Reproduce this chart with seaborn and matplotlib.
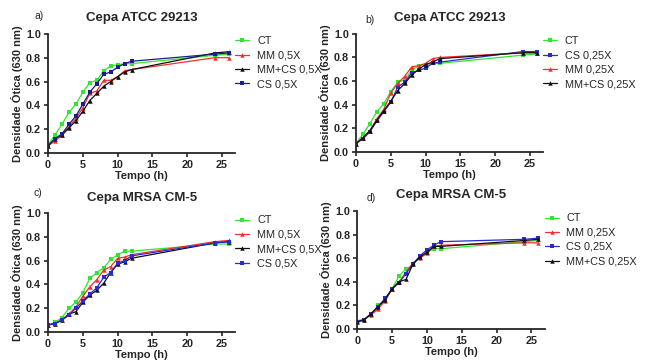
import numpy as np
import pandas as pd
import matplotlib
matplotlib.use("Agg")
import matplotlib.pyplot as plt
import seaborn as sns

sns.set_style("ticks")
plt.rcParams['font.family'] = ['Liberation Sans', 'DejaVu Sans']

tempo = [0, 1, 2, 3, 4, 5, 6, 7, 8, 9, 10, 11, 12, 24, 26]

# Panel a) Cepa ATCC 29213, 0,5X
a_ct = [0.07, 0.15, 0.24, 0.34, 0.41, 0.51, 0.59, 0.61, 0.69, 0.73, 0.74, 0.75, 0.75, 0.82, 0.83]
a_mm = [0.06, 0.10, 0.15, 0.22, 0.29, 0.38, 0.50, 0.52, 0.61, 0.61, 0.64, 0.69, 0.70, 0.80, 0.80]
a_mmcs = [0.06, 0.12, 0.15, 0.21, 0.27, 0.35, 0.44, 0.50, 0.56, 0.60, 0.64, 0.68, 0.70, 0.84, 0.85]
a_cs = [0.06, 0.12, 0.16, 0.24, 0.31, 0.41, 0.51, 0.58, 0.66, 0.68, 0.72, 0.75, 0.77, 0.83, 0.84]

# Panel b) Cepa ATCC 29213, 0,25X
b_ct = [0.07, 0.15, 0.24, 0.34, 0.41, 0.51, 0.59, 0.61, 0.69, 0.73, 0.74, 0.75, 0.75, 0.82, 0.83]
b_cs = [0.07, 0.11, 0.17, 0.26, 0.34, 0.42, 0.55, 0.59, 0.67, 0.69, 0.71, 0.75, 0.76, 0.85, 0.85]
b_mm = [0.07, 0.12, 0.18, 0.28, 0.36, 0.50, 0.58, 0.64, 0.72, 0.73, 0.75, 0.79, 0.80, 0.84, 0.84]
b_mmcs = [0.07, 0.12, 0.18, 0.27, 0.35, 0.43, 0.52, 0.58, 0.65, 0.70, 0.74, 0.76, 0.79, 0.84, 0.84]

# Panel c) Cepa MRSA CM-5, 0,5X
c_ct = [0.05, 0.08, 0.12, 0.20, 0.25, 0.33, 0.45, 0.50, 0.54, 0.61, 0.65, 0.68, 0.68, 0.74, 0.74]
c_mm = [0.06, 0.07, 0.10, 0.15, 0.21, 0.30, 0.38, 0.44, 0.52, 0.55, 0.62, 0.63, 0.65, 0.76, 0.77]
c_mmcs = [0.06, 0.07, 0.10, 0.15, 0.17, 0.25, 0.31, 0.35, 0.41, 0.50, 0.57, 0.59, 0.62, 0.75, 0.76]
c_cs = [0.06, 0.07, 0.10, 0.14, 0.20, 0.26, 0.32, 0.37, 0.46, 0.50, 0.58, 0.60, 0.64, 0.75, 0.76]

# Panel d) Cepa MRSA CM-5, 0,25X
d_ct = [0.05, 0.08, 0.13, 0.20, 0.24, 0.34, 0.45, 0.51, 0.54, 0.62, 0.65, 0.68, 0.68, 0.74, 0.75]
d_mm = [0.07, 0.08, 0.12, 0.17, 0.24, 0.34, 0.40, 0.48, 0.56, 0.60, 0.64, 0.70, 0.71, 0.73, 0.73]
d_cs = [0.06, 0.08, 0.13, 0.19, 0.26, 0.34, 0.39, 0.47, 0.55, 0.62, 0.67, 0.71, 0.74, 0.76, 0.77]
d_mmcs = [0.06, 0.08, 0.13, 0.19, 0.25, 0.34, 0.40, 0.42, 0.55, 0.61, 0.65, 0.70, 0.70, 0.75, 0.76]

GREEN = "#2ee82e"
RED = "#f03030"
BLACK = "#111111"
BLUE_A = "#1c1c8c"
BLUE_B = "#2a2ad0"

panels = [
    dict(label="a)", lpos=(-0.07, 1.15), title="Cepa ATCC 29213", pos=[0.0743, 0.575, 0.290, 0.331],
         series=[("CT", a_ct, GREEN, "s"), ("MM 0,5X", a_mm, RED, "^"),
                 ("MM+CS 0,5X", a_mmcs, BLACK, "^"), ("CS 0,5X", a_cs, BLUE_A, "s")]),
    dict(label="b)", lpos=(0.05, 1.12), title="Cepa ATCC 29213", pos=[0.551, 0.578, 0.290, 0.328],
         series=[("CT", b_ct, GREEN, "s"), ("CS 0,25X", b_cs, BLUE_B, "s"),
                 ("MM 0,25X", b_mm, RED, "^"), ("MM+CS 0,25X", b_mmcs, BLACK, "^")]),
    dict(label="c)", lpos=(-0.08, 1.17), title="Cepa MRSA CM-5", pos=[0.0743, 0.078, 0.290, 0.330],
         series=[("CT", c_ct, GREEN, "s"), ("MM 0,5X", c_mm, RED, "^"),
                 ("MM+CS 0,5X", c_mmcs, BLACK, "^"), ("CS 0,5X", c_cs, BLUE_B, "s")]),
    dict(label="d)", lpos=(0.05, 1.11), title="Cepa MRSA CM-5", pos=[0.553, 0.086, 0.290, 0.328],
         series=[("CT", d_ct, GREEN, "s"), ("MM 0,25X", d_mm, RED, "^"),
                 ("CS 0,25X", d_cs, BLUE_B, "s"), ("MM+CS 0,25X", d_mmcs, BLACK, "^")]),
]

fig = plt.figure(figsize=(6.46, 3.6), dpi=100)

for p in panels:
    ax = fig.add_axes(p["pos"])
    rows = []
    for name, vals, col, mk in p["series"]:
        for t, v in zip(tempo, vals):
            rows.append({"Tempo": t, "OD": v, "Grupo": name})
    df = pd.DataFrame(rows)
    order = [s[0] for s in p["series"]]
    pal = {s[0]: s[2] for s in p["series"]}
    mks = {s[0]: s[3] for s in p["series"]}
    sns.lineplot(data=df, x="Tempo", y="OD", hue="Grupo", hue_order=order,
                 style="Grupo", style_order=order, markers=mks, dashes=False,
                 palette=pal, ax=ax, linewidth=0.9, markersize=3.2,
                 markeredgewidth=0, legend=True)
    ax.set_xlim(0, 26.9)
    ax.set_ylim(0, 1.0)
    ax.set_xticks([0, 5, 10, 15, 20, 25])
    ax.set_yticks([0.0, 0.2, 0.4, 0.6, 0.8, 1.0])
    ax.set_yticklabels(["0.0", "0.2", "0.4", "0.6", "0.8", "1.0"])
    for lab in ax.get_xticklabels() + ax.get_yticklabels():
        lab.set_fontweight("bold")
        lab.set_fontsize(7.8)
    ax.tick_params(axis="both", length=3, width=1.2, pad=2)
    for side in ["left", "bottom"]:
        ax.spines[side].set_linewidth(1.3)
    sns.despine(ax=ax)
    ax.set_xlabel("Tempo (h)", fontsize=8, fontweight="bold", labelpad=1)
    ax.set_ylabel("Densidade Ótica (630 nm)", fontsize=8, fontweight="bold", labelpad=2)
    ax.set_title(p["title"], fontsize=9.5, fontweight="bold", pad=9)
    ax.text(p["lpos"][0], p["lpos"][1], p["label"], transform=ax.transAxes, fontsize=7.5,
            ha="left", va="center")
    leg = ax.legend(loc="upper left", bbox_to_anchor=(1.0, 0.98), frameon=False,
                    fontsize=7.8, handlelength=1.3, labelspacing=0.4, borderaxespad=0,
                    borderpad=0, handletextpad=0.7)
    for h in leg.legend_handles:
        h.set_linewidth(0.9)

fig.savefig("out.png", dpi=100)
